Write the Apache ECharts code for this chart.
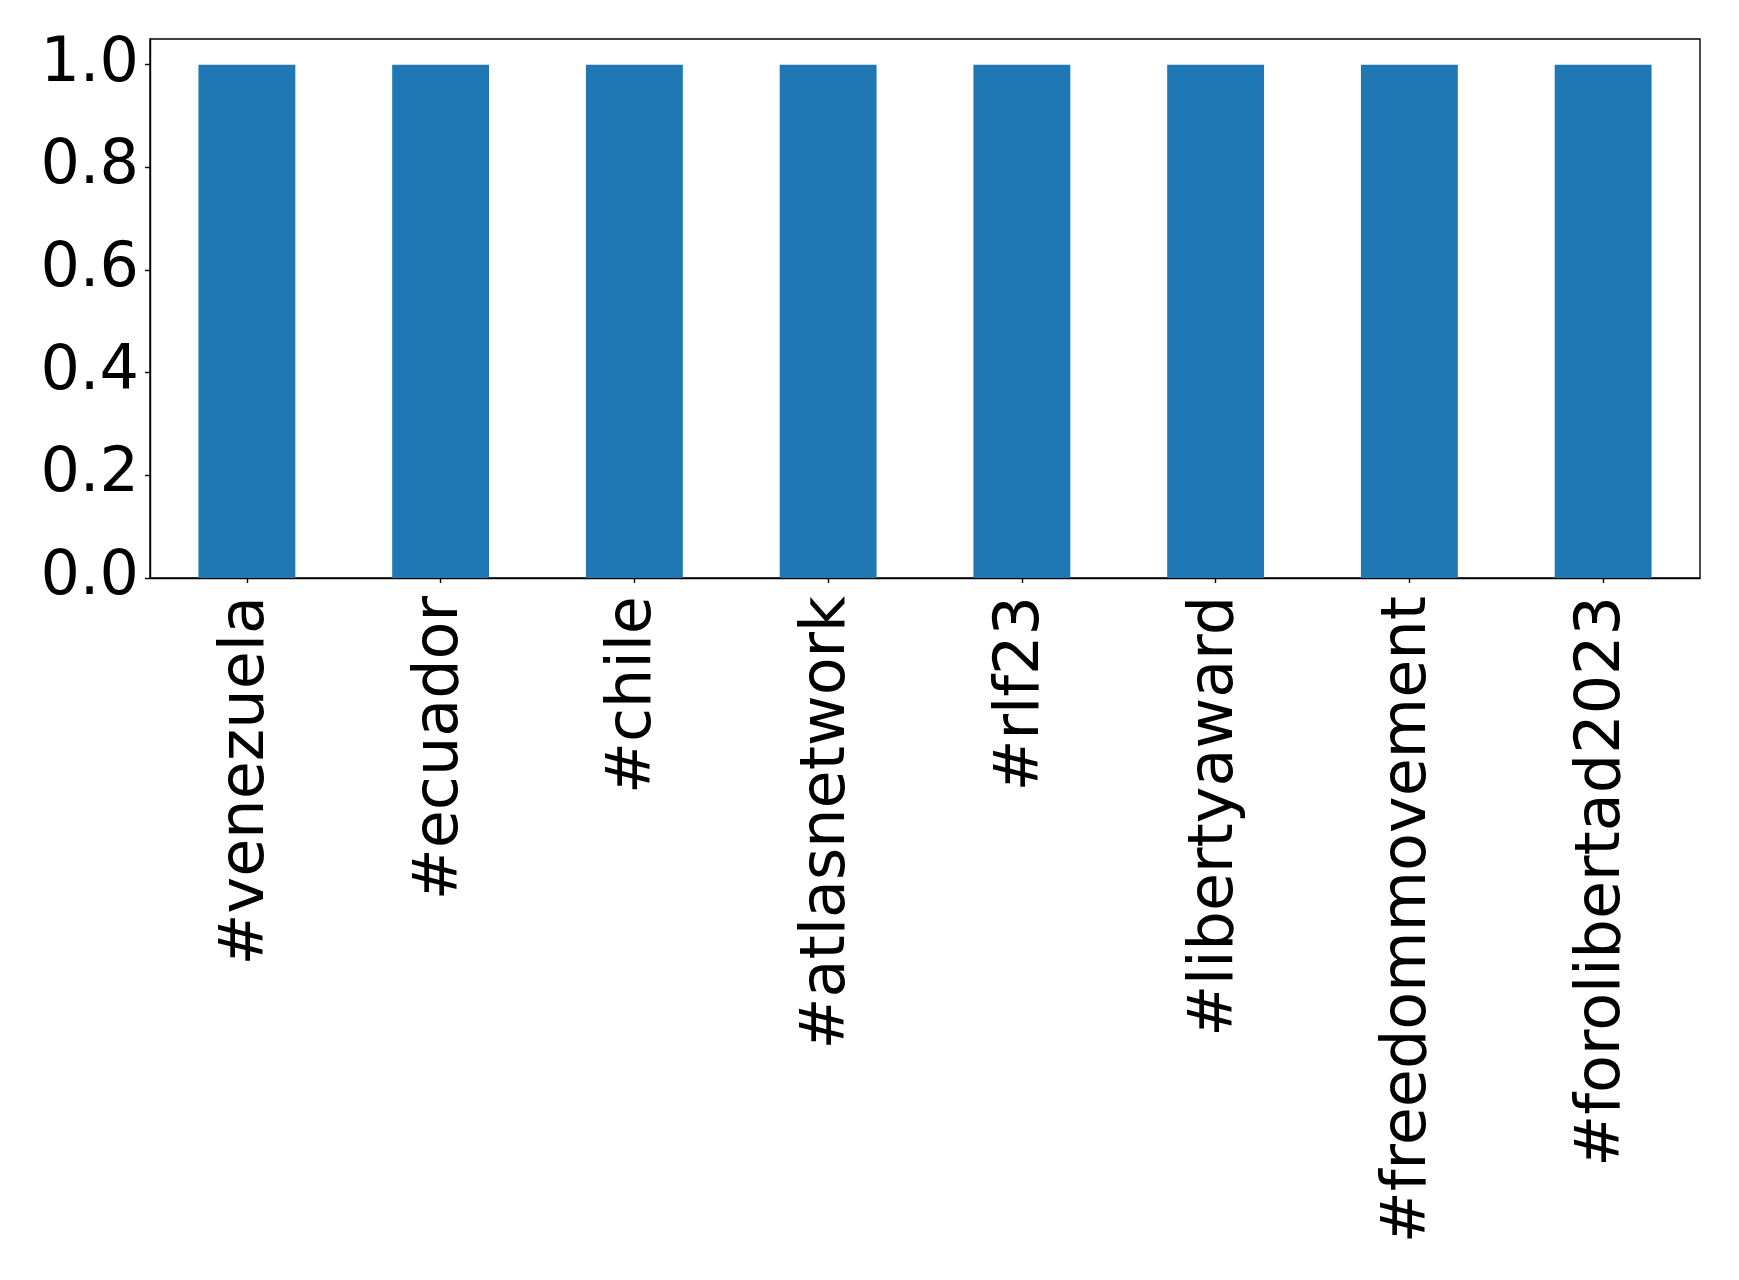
<!DOCTYPE html>
<html>
<head>
<meta charset="utf-8">
<script src="https://cdn.jsdelivr.net/npm/echarts@6/dist/echarts.min.js"></script>
<style>html,body{margin:0;padding:0;background:#fff;}#c{width:1739px;height:1280px;}</style>
</head>
<body>
<div id="c"></div>
<script>
const categories = ['#venezuela', '#ecuador', '#chile', '#atlasnetwork', '#rlf23', '#libertyaward', '#freedommovement', '#forolibertad2023'];
const values = [1, 1, 1, 1, 1, 1, 1, 1];
const yTicks = [0, 0.2, 0.4, 0.6, 0.8, 1.0];

const chart = echarts.init(document.getElementById('c'), null, {renderer: 'canvas'});
const font = 'DejaVu Sans';
chart.setOption({
  animation: false,
  backgroundColor: '#fff',
  grid: {
    left: 150, right: 39, top: 39, bottom: 702,
    containLabel: false,
    show: true, borderColor: '#000', borderWidth: 1.4, backgroundColor: 'transparent'
  },
  xAxis: {
    type: 'category',
    data: categories,
    boundaryGap: true,
    axisLine: {show: true, lineStyle: {color: '#000', width: 1.4}},
    axisTick: {show: true, alignWithLabel: true, length: 5, lineStyle: {color: '#000', width: 1.4}},
    axisLabel: {rotate: 90, margin: 18, padding: [7, 0, 0, 0], color: '#000', fontFamily: font, fontSize: 62, interval: 0},
    splitLine: {show: false}
  },
  yAxis: {
    type: 'value',
    min: 0, max: 1.05,
    axisLine: {show: true, lineStyle: {color: '#000', width: 1.4}},
    axisTick: {show: true, length: 5, lineStyle: {color: '#000', width: 1.4}, customValues: yTicks},
    axisLabel: {margin: 11, color: '#000', fontFamily: font, fontSize: 62, customValues: yTicks,
      formatter: v => Number(v).toFixed(1)},
    splitLine: {show: false}
  },
  series: [{
    type: 'bar',
    data: values,
    barWidth: '50%',
    itemStyle: {color: '#1f77b4'}
  }]
});
</script>
</body>
</html>
